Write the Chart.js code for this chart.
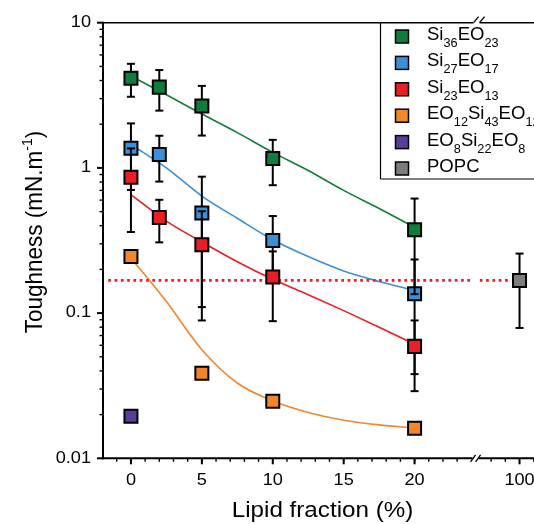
<!DOCTYPE html>
<html>
<head>
<meta charset="utf-8">
<script src="https://cdn.jsdelivr.net/npm/chart.js@4.4.1/dist/chart.umd.min.js"></script>
<style>
  html, body { margin: 0; padding: 0; background: #fff; }
  #wrap { width: 534px; height: 524px; position: relative; }
</style>
</head>
<body>
<div id="wrap"><canvas id="toughness"></canvas></div>
<script>
// lipid fraction (%) of the measured points
var fracX = [0, 2, 5, 10, 20];
var fracX4 = [0, 5, 10, 20];

// toughness (mN/m) and +/- error
var si36Vals = [4.15, 3.6, 2.67, 1.16, 0.375];
var si36Err = [1.06, 1.12, 1.0, 0.40, 0.24];
var si27Vals = [1.365, 1.235, 0.49, 0.316, 0.136];
var si27Err = [0.66, 0.43, 0.38, 0.15, 0.098];
var si23Vals = [0.862, 0.455, 0.296, 0.177, 0.059];
var si23Err = [0.50, 0.148, 0.207, 0.089, 0.030];
var eo12Vals = [0.245, 0.0385, 0.0247, 0.0161];
var eo8X = [0];
var eo8Vals = [0.0195];
var popcX = [100];
var popcVals = [0.168];
var popcErr = [0.089];

// fitted curves, sampled from the figure
var fitX = [0, 2.5, 5, 7.5, 10, 12.5, 15, 17.5, 20];
var si36Fit = [4.3, 3.19, 2.35, 1.75, 1.28, 0.96, 0.70, 0.525, 0.39];
var si27Fit = [1.45, 1.0, 0.64, 0.45, 0.32, 0.245, 0.195, 0.165, 0.143];
var si23Fit = [0.655, 0.43, 0.309, 0.226, 0.171, 0.134, 0.104, 0.08, 0.061];
var eo12Fit = [0.24, 0.12, 0.056, 0.033, 0.0248, 0.0207, 0.0183, 0.017, 0.0162];

// POPC reference level (dotted), broken at the axis break
var popcLineX = [-1.6, 23.95, 24.3, 97.2, 99.3];
var popcLineY = [0.168, 0.168, null, 0.168, 0.168];

// axes
var xTickVals = [0, 5, 10, 15, 20, 100];
var xTickLabels = ['0', '5', '10', '15', '20', '100'];
var yTickVals = [0.01, 0.1, 1, 10];
var yTickLabels = ['0.01', '0.1', '1', '10'];

var legendLabels = [
  [['Si', 0], ['36', 1], ['EO', 0], ['23', 1]],
  [['Si', 0], ['27', 1], ['EO', 0], ['17', 1]],
  [['Si', 0], ['23', 1], ['EO', 0], ['13', 1]],
  [['EO', 0], ['12', 1], ['Si', 0], ['43', 1], ['EO', 0], ['12', 1]],
  [['EO', 0], ['8', 1], ['Si', 0], ['22', 1], ['EO', 0], ['8', 1]],
  [['POPC', 0]]
];

var GREEN = '#117d3d', BLUE = '#3b90d8', RED = '#ec1d25', ORANGE = '#f2862a', PURPLE = '#5a3d98', GREY = '#7d7d7d';
var legendColors = [GREEN, BLUE, RED, ORANGE, PURPLE, GREY];

// the x axis jumps from ~24 straight to ~97
var BREAK_AT = 24.3, GAP_SHIFT = 72.6;
function axisX(v) { return v > 50 ? v - GAP_SHIFT : v; }

function pts(xs, ys) {
  return xs.map(function (x, i) { return { x: axisX(x), y: ys[i] }; });
}

function markers(label, xs, ys, errs, color, order) {
  return {
    label: label,
    data: pts(xs, ys),
    err: errs,
    showLine: false,
    pointStyle: 'rect',
    pointRadius: 9.2,
    pointBorderWidth: 2,
    pointBorderColor: '#000',
    pointBackgroundColor: color,
    order: order
  };
}

function fit(xs, ys, color) {
  return {
    data: pts(xs, ys),
    borderColor: color,
    borderWidth: 1.6,
    pointRadius: 0,
    fill: false,
    cubicInterpolationMode: 'monotone',
    order: 10
  };
}

var FONT = '"Liberation Sans", Arial, sans-serif';

function stretchText(ctx, txt, x, y, align, size) {
  ctx.save();
  ctx.font = size + 'px ' + FONT;
  ctx.translate(x, y);
  ctx.scale(1.1, 1);
  ctx.textAlign = align;
  ctx.textBaseline = 'alphabetic';
  ctx.fillText(txt, 0, 0);
  ctx.restore();
}

function line(ctx, x1, y1, x2, y2, w) {
  ctx.lineWidth = w;
  ctx.beginPath();
  ctx.moveTo(x1, y1);
  ctx.lineTo(x2, y2);
  ctx.stroke();
}

var frame = {
  id: 'frame',
  // error bars go under each series' own squares
  beforeDatasetDraw: function (chart, args) {
    var ds = chart.data.datasets[args.index];
    if (!ds.err) return;
    var xs = chart.scales.x, ys = chart.scales.y, ctx = chart.ctx;
    ctx.save();
    ctx.strokeStyle = '#000';
    ds.data.forEach(function (p, i) {
      var px = xs.getPixelForValue(p.x);
      var hi = ys.getPixelForValue(p.y + ds.err[i]);
      var lo = ys.getPixelForValue(p.y - ds.err[i]);
      line(ctx, px, hi, px, lo, 2);
      line(ctx, px - 4, hi, px + 4, hi, 2);
      line(ctx, px - 4, lo, px + 4, lo, 2);
    });
    ctx.restore();
  },
  afterDraw: function (chart) {
    var ctx = chart.ctx, a = chart.chartArea;
    var xs = chart.scales.x, ys = chart.scales.y;
    var bx = xs.getPixelForValue(BREAK_AT);
    ctx.save();
    ctx.strokeStyle = '#000';
    ctx.fillStyle = '#000';
    ctx.lineCap = 'butt';

    // legend box hanging from the top frame
    var lx = 380.5, lb = 179;
    ctx.fillStyle = '#fff';
    ctx.fillRect(lx, a.top, a.right - lx + 2, lb - a.top);
    ctx.fillStyle = '#000';
    line(ctx, lx, a.top, lx, lb, 1.2);
    line(ctx, lx, lb, a.right + 2, lb, 1.2);
    legendLabels.forEach(function (parts, i) {
      var cy = 36.5 + i * 26.4;
      ctx.fillStyle = legendColors[i];
      ctx.fillRect(395.5, cy - 6.5, 13, 13);
      ctx.lineWidth = 1.5;
      ctx.strokeRect(395.5, cy - 6.5, 13, 13);
      ctx.fillStyle = '#000';
      ctx.save();
      ctx.translate(427, cy + 3.5);
      ctx.scale(1.06, 1);
      ctx.textBaseline = 'alphabetic';
      var cur = 0;
      parts.forEach(function (p) {
        ctx.font = (p[1] ? 12 : 17.5) + 'px ' + FONT;
        ctx.fillText(p[0], cur, p[1] ? 7 : 0);
        cur += ctx.measureText(p[0]).width;
      });
      ctx.restore();
    });

    // axis lines with the break marks
    line(ctx, a.left, a.top - 1, a.left, a.bottom + 1, 2);
    line(ctx, a.left - 1, a.bottom, bx - 3, a.bottom, 2);
    line(ctx, bx + 3, a.bottom, a.right, a.bottom, 2);
    line(ctx, a.left - 1, a.top, bx - 2, a.top, 1.6);
    line(ctx, bx + 4, a.top, a.right, a.top, 1.6);
    line(ctx, bx - 5, a.bottom + 3.5, bx, a.bottom - 3.5, 1.3);
    line(ctx, bx, a.bottom + 3.5, bx + 5, a.bottom - 3.5, 1.3);
    line(ctx, bx - 2, a.top, bx + 3, a.top - 6, 1.3);
    line(ctx, bx + 4, a.top, bx + 9, a.top - 6, 1.3);

    // x ticks
    var minor = [];
    for (var v = -1; v <= 23; v++) minor.push(v);
    minor.push(98, 99, 101);
    minor.forEach(function (v) {
      var px = xs.getPixelForValue(axisX(v));
      line(ctx, px, a.bottom, px, a.bottom + 3.5, 1.4);
    });
    xTickVals.forEach(function (v, i) {
      var px = xs.getPixelForValue(axisX(v));
      line(ctx, px, a.bottom, px, a.bottom + 6, 2);
      stretchText(ctx, xTickLabels[i], px, 485, 'center', 16.5);
    });

    // y ticks
    [0.01, 0.1, 1].forEach(function (d) {
      for (var m = 2; m <= 9; m++) {
        var py = ys.getPixelForValue(m * d);
        line(ctx, a.left, py, a.left - 3.5, py, 1.4);
      }
    });
    yTickVals.forEach(function (v, i) {
      var py = ys.getPixelForValue(v);
      line(ctx, a.left, py, a.left - 6, py, 2);
      stretchText(ctx, yTickLabels[i], 91, py + 4.2, 'right', 16.5);
    });

    // titles
    stretchText(ctx, 'Lipid fraction (%)', 322.5, 517, 'center', 22);
    ctx.save();
    ctx.translate(33, 232);
    ctx.rotate(-Math.PI / 2);
    ctx.scale(1, 1.1);
    ctx.textBaseline = 'alphabetic';
    ctx.font = '22.5px ' + FONT;
    var t1 = 'Toughness (mN.m', t2 = ')';
    var w1 = ctx.measureText(t1).width, w3 = ctx.measureText(t2).width;
    ctx.font = '14px ' + FONT;
    var w2 = ctx.measureText('-1').width;
    var sx = -(w1 + w2 + w3) / 2;
    ctx.font = '22.5px ' + FONT;
    ctx.fillText(t1, sx, 8);
    ctx.fillText(t2, sx + w1 + w2, 8);
    ctx.font = '14px ' + FONT;
    ctx.fillText('-1', sx + w1, -1);
    ctx.restore();

    ctx.restore();
  }
};

new Chart(document.getElementById('toughness').getContext('2d'), {
  type: 'line',
  data: {
    datasets: [
      fit(fitX, si36Fit, GREEN),
      fit(fitX, si27Fit, BLUE),
      fit(fitX, si23Fit, RED),
      fit(fitX, eo12Fit, ORANGE),
      {
        data: pts(popcLineX, popcLineY),
        borderColor: RED,
        borderWidth: 2.7,
        borderDash: [2.7, 3.6],
        pointRadius: 0,
        spanGaps: false,
        order: 9
      },
      markers('Si27EO17', fracX, si27Vals, si27Err, BLUE, 5),
      markers('Si23EO13', fracX, si23Vals, si23Err, RED, 4),
      markers('Si36EO23', fracX, si36Vals, si36Err, GREEN, 3),
      markers('EO12Si43EO12', fracX4, eo12Vals, null, ORANGE, 2),
      markers('EO8Si22EO8', eo8X, eo8Vals, null, PURPLE, 2),
      markers('POPC', popcX, popcVals, popcErr, GREY, 2)
    ]
  },
  options: {
    responsive: true,
    maintainAspectRatio: false,
    animation: false,
    layout: { autoPadding: false, padding: { left: 103, right: 0, top: 22.7, bottom: 65.7 } },
    plugins: { legend: { display: false }, tooltip: { enabled: false } },
    scales: {
      x: { type: 'linear', display: false, min: -1.97, max: 28.42 },
      y: { type: 'logarithmic', display: false, min: 0.01, max: 10 }
    }
  },
  plugins: [frame]
});
</script>
</body>
</html>
